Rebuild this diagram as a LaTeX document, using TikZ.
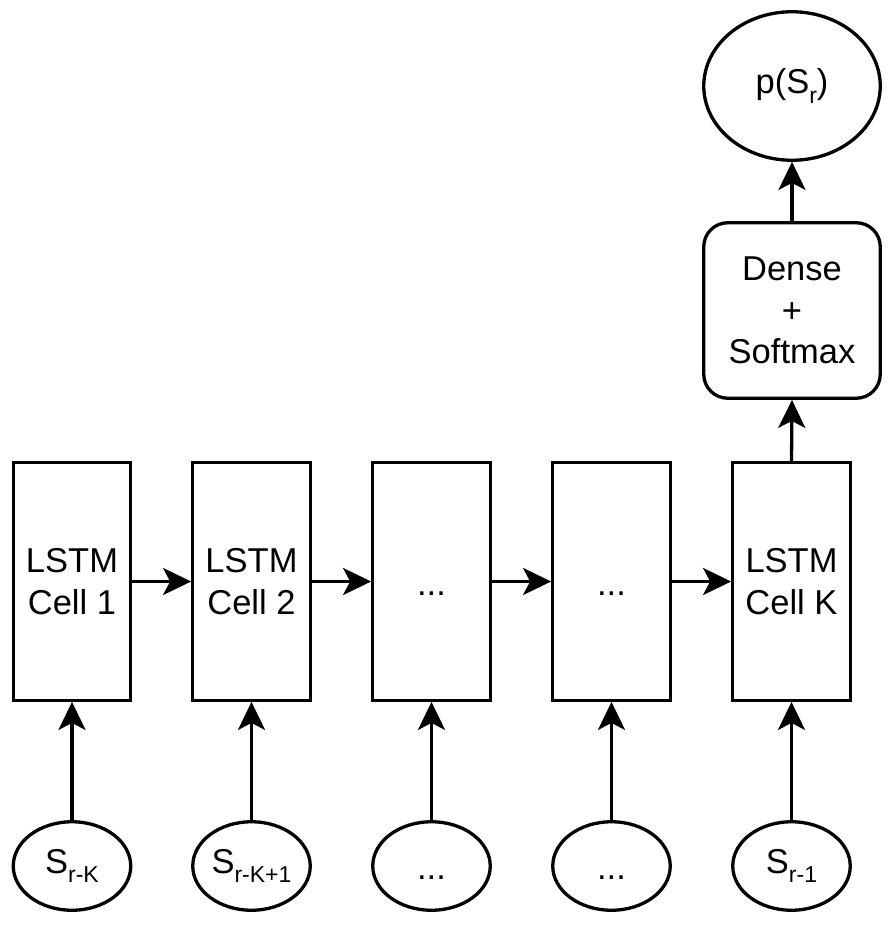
\documentclass[tikz,border=0pt]{standalone}
\usepackage{fontspec}
\setmainfont{Liberation Sans}
\usetikzlibrary{arrows.meta,shapes.geometric}
\newcommand\mysub[1]{\raisebox{-9.5pt}{\fontsize{23}{23}\selectfont #1}}
\begin{document}
\begin{tikzpicture}[x=1pt,y=-1pt,
  every node/.style={font=\fontsize{34.5}{41.4}\selectfont, inner sep=0pt},
  cell/.style={draw, line width=3.3pt, minimum width=117.5pt, minimum height=237.5pt, align=center},
  inp/.style={draw, ellipse, line width=3.3pt, minimum width=117.5pt, minimum height=88.5pt},
  outp/.style={draw, ellipse, line width=3.3pt, minimum width=176.5pt, minimum height=148.5pt},
  dense/.style={draw, rounded corners=24pt, line width=3.3pt, minimum width=176.5pt, minimum height=175.5pt, align=center},
  conn/.style={line width=3.3pt, -{Stealth[length=28pt,width=27pt,inset=7pt]}},
  dotstext/.style={text height=31pt, text depth=3.5pt}
]
\useasboundingbox (0,0) rectangle (896,926);
% LSTM cells
\node[cell] (c1) at (72,581.5) {LSTM\\Cell 1};
\node[cell] (c2) at (251.5,581.5) {LSTM\\Cell 2};
\node[cell,dotstext] (c3) at (431.5,581.5) {...};
\node[cell,dotstext] (c4) at (611.5,581.5) {...};
\node[cell] (c5) at (791.5,581.5) {LSTM\\Cell K};
% inputs
\node[inp] (i1) at (72,866) {S\mysub{r-K}};
\node[inp] (i2) at (251.5,866) {S\mysub{r-K+1}};
\node[inp,dotstext] (i3) at (431.5,866) {...};
\node[inp,dotstext] (i4) at (611.5,866) {...};
\node[inp] (i5) at (791.5,866) {S\mysub{r-1}};
% dense and output
\node[dense] (d) at (792,310.5) {Dense\\+\\Softmax};
\node[outp] (o) at (792,86) {p(S\mysub{r})};
% connectors
\draw[conn] (c1.east) -- (c2.west);
\draw[conn] (c2.east) -- (c3.west);
\draw[conn] (c3.east) -- (c4.west);
\draw[conn] (c4.east) -- (c5.west);
\draw[conn] (i1.north) -- (c1.south);
\draw[conn] (i2.north) -- (c2.south);
\draw[conn] (i3.north) -- (c3.south);
\draw[conn] (i4.north) -- (c4.south);
\draw[conn] (i5.north) -- (c5.south);
\draw[conn] (c5.north) -- (d.south);
\draw[conn] (d.north) -- (o.south);
\end{tikzpicture}
\end{document}
